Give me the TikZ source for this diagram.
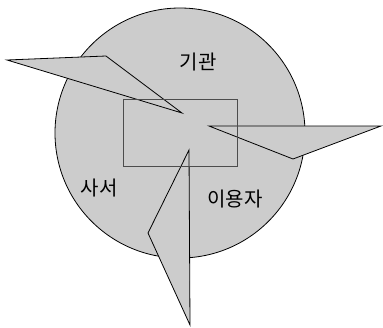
\documentclass[tikz,border=0pt]{standalone}
\usepackage{fontspec}
\newfontfamily\krfont{Noto Sans CJK KR}
\usetikzlibrary{positioning}

\begin{document}
\begin{tikzpicture}[
    x=1pt, y=-1pt,
    zone/.style={draw=black, line width=0.8pt, fill=black!20},
    pointer/.style={draw=black, line width=0.8pt, fill=black!20, line join=miter},
    core/.style={draw=black!70, line width=0.6pt},
    tag/.style={font=\krfont\fontsize{20}{24}\selectfont, inner sep=0pt}
  ]
  \useasboundingbox (0,0) rectangle (383,327);

  % outer field
  \draw[zone] (180,133) circle[radius=125];

  % three pointers into the centre
  \draw[pointer] (7,60) -- (106,56) -- (182,113) -- cycle;
  \draw[pointer] (209,126) -- (381,126) -- (293,159) -- cycle;
  \draw[pointer] (189,150) -- (148,233) -- (190,325) -- cycle;

  % centre box
  \draw[core] (123,99) rectangle (237,166);

  \node[tag] (gigwan) at (198,62) {기관};
  \node[tag] (saseo) at (99,188) {사서};
  \node[tag] (iyongja) at (235,199) {이용자};

\end{tikzpicture}
\end{document}
